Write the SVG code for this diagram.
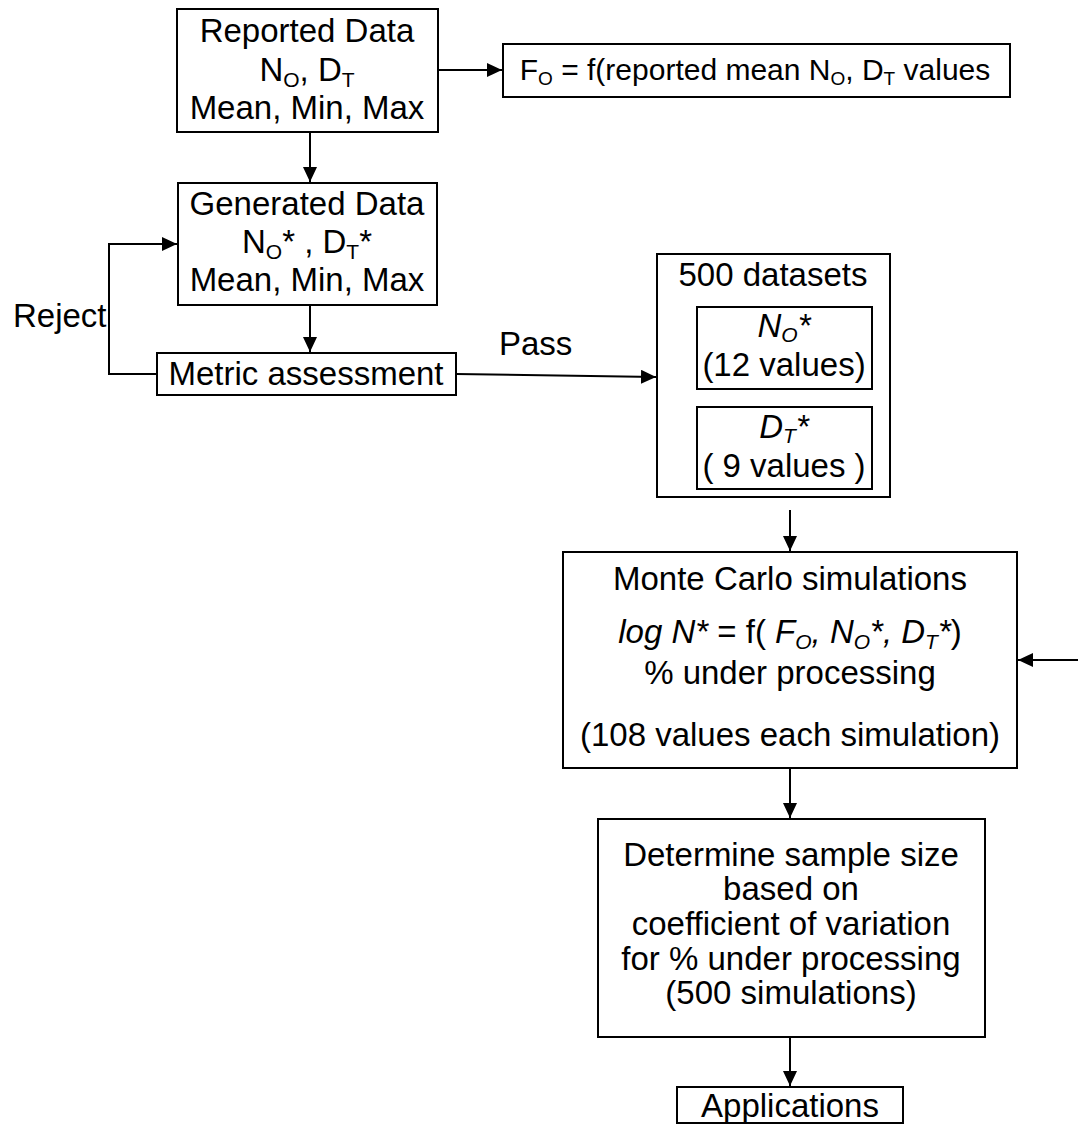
<svg xmlns="http://www.w3.org/2000/svg" width="1078" height="1129" viewBox="0 0 1078 1129">
<defs>
<marker id="ah" markerUnits="userSpaceOnUse" markerWidth="16" markerHeight="14" refX="15" refY="7" orient="auto">
<path d="M0,0 L15,7 L0,14 Z" fill="#000"/>
</marker>
<style>
.box{fill:#fff;stroke:#000;stroke-width:2}
.t{font-family:"Liberation Sans",Arial,sans-serif;font-size:33px;fill:#000;text-anchor:middle}
.l{font-family:"Liberation Sans",Arial,sans-serif;font-size:33px;fill:#000}
.s{font-size:21px}
.i{font-style:italic}
.c{fill:none;stroke:#000;stroke-width:2;marker-end:url(#ah)}
</style>
</defs>
<rect width="1078" height="1129" fill="#fff"/>
<g id="connectors">
<path class="c" d="M310,132 V182"/>
<path class="c" d="M438,70 H502"/>
<path class="c" d="M310,305 V352"/>
<path class="c" d="M157,374 H109 V244 H177"/>
<path class="c" d="M456,374 L656,377"/>
<path class="c" d="M790,510 V551"/>
<path class="c" d="M1078,660 H1018"/>
<path class="c" d="M790,768 V818"/>
<path class="c" d="M790,1037 V1086"/>
</g>
<g id="reported">
<rect class="box" x="177" y="9" width="261" height="123"/>
<text class="t" x="307" y="42">Reported Data</text>
<text class="t" x="307" y="81">N<tspan class="s" dy="6">O</tspan><tspan dy="-6">, D</tspan><tspan class="s" dy="6">T</tspan></text>
<text class="t" x="307" y="119">Mean, Min, Max</text>
</g>
<g id="fo">
<rect class="box" x="503" y="44" width="507" height="53"/>
<text class="t" x="755" y="80" style="font-size:30px">F<tspan class="s" style="font-size:19px" dy="5">O</tspan><tspan dy="-5"> = f(reported mean N</tspan><tspan class="s" style="font-size:19px" dy="5">O</tspan><tspan dy="-5">, D</tspan><tspan class="s" style="font-size:19px" dy="5">T</tspan><tspan dy="-5"> values</tspan></text>
</g>
<g id="generated">
<rect class="box" x="178" y="183" width="259" height="122"/>
<text class="t" x="307" y="215">Generated Data</text>
<text class="t" x="307" y="253">N<tspan class="s" dy="6">O</tspan><tspan dy="-6">* , D</tspan><tspan class="s" dy="6">T</tspan><tspan dy="-6">*</tspan></text>
<text class="t" x="307" y="291">Mean, Min, Max</text>
</g>
<g id="metric">
<rect class="box" x="157" y="353" width="299" height="42"/>
<text class="t" x="306" y="385">Metric assessment</text>
</g>
<g id="labels">
<text class="l" x="13" y="327">Reject</text>
<text class="l" x="499" y="355">Pass</text>
</g>
<g id="datasets">
<rect class="box" x="657" y="254" width="233" height="243"/>
<text class="t" x="773" y="286">500 datasets</text>
<g id="no">
<rect class="box" x="697" y="307" width="175" height="82"/>
<text class="t i" x="784" y="337">N<tspan class="s" dy="5">O</tspan><tspan dy="-5">*</tspan></text>
<text class="t" x="784" y="376">(12 values)</text>
</g>
<g id="dt">
<rect class="box" x="697" y="407" width="175" height="82"/>
<text class="t i" x="784" y="438">D<tspan class="s" dy="5">T</tspan><tspan dy="-5">*</tspan></text>
<text class="t" x="784" y="477">( 9 values )</text>
</g>
</g>
<g id="montecarlo">
<rect class="box" x="563" y="552" width="454" height="216"/>
<text class="t" x="790" y="590">Monte Carlo simulations</text>
<text class="t" x="790" y="643"><tspan class="i">log N*</tspan> = f( <tspan class="i">F</tspan><tspan class="s i" dy="6">O</tspan><tspan class="i" dy="-6">, N</tspan><tspan class="s i" dy="6">O</tspan><tspan class="i" dy="-6">*, D</tspan><tspan class="s i" dy="6">T</tspan><tspan class="i" dy="-6">*</tspan>)</text>
<text class="t" x="790" y="684">% under processing</text>
<text class="t" x="790" y="746">(108 values each simulation)</text>
</g>
<g id="determine">
<rect class="box" x="598" y="819" width="387" height="218"/>
<text class="t" x="791" y="866">Determine sample size</text>
<text class="t" x="791" y="900">based on</text>
<text class="t" x="791" y="935">coefficient of variation</text>
<text class="t" x="791" y="970">for % under processing</text>
<text class="t" x="791" y="1004">(500 simulations)</text>
</g>
<g id="applications">
<rect class="box" x="677" y="1087" width="226" height="36"/>
<text class="t" x="790" y="1117">Applications</text>
</g>
</svg>
